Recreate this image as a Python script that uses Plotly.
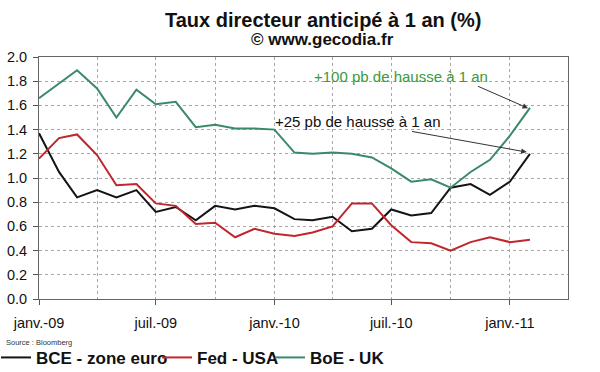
import plotly.graph_objects as go

# ---------------- data ----------------
months = ["2009-01-01", "2009-02-01", "2009-03-01", "2009-04-01", "2009-05-01", "2009-06-01",
          "2009-07-01", "2009-08-01", "2009-09-01", "2009-10-01", "2009-11-01", "2009-12-01",
          "2010-01-01", "2010-02-01", "2010-03-01", "2010-04-01", "2010-05-01", "2010-06-01",
          "2010-07-01", "2010-08-01", "2010-09-01", "2010-10-01", "2010-11-01", "2010-12-01",
          "2011-01-01", "2011-02-01"]

bce = [1.37, 1.05, 0.84, 0.90, 0.84, 0.90, 0.72, 0.76, 0.65, 0.77, 0.74, 0.77,
       0.75, 0.66, 0.65, 0.68, 0.56, 0.58, 0.74, 0.69, 0.71, 0.92, 0.95, 0.86,
       0.97, 1.20]
fed = [1.16, 1.33, 1.36, 1.19, 0.94, 0.95, 0.79, 0.77, 0.62, 0.63, 0.51, 0.58,
       0.54, 0.52, 0.55, 0.60, 0.79, 0.79, 0.61, 0.47, 0.46, 0.40, 0.47, 0.51,
       0.47, 0.49]
boe = [1.66, 1.78, 1.89, 1.74, 1.50, 1.73, 1.61, 1.63, 1.42, 1.44, 1.41, 1.41,
       1.40, 1.21, 1.20, 1.21, 1.20, 1.17, 1.08, 0.97, 0.99, 0.92, 1.05, 1.15,
       1.35, 1.58]

series_names = ["BCE - zone euro", "Fed - USA", "BoE - UK"]
series_colors = ["#141414", "#c0262c", "#3a8a68"]

tick_vals = ["2009-01-01", "2009-07-01", "2010-01-01", "2010-07-01", "2011-01-01"]
tick_text = ["janv.-09", "juil.-09", "janv.-10", "juil.-10", "janv.-11"]

# ---------------- layout geometry ----------------
W, H = 600, 372
L, R, T, B = 39, 32, 56.5, 73
PW, PH = W - L - R, H - T - B
FONT = "Liberation Sans, Arial, sans-serif"


def px(x):
    return (x - L) / PW


def py(y):
    return (H - B - y) / PH


fig = go.Figure()
legends = ["legend", "legend2", "legend3"]
for name, vals, col, lg in zip(series_names, [bce, fed, boe], series_colors, legends):
    fig.add_trace(go.Scatter(x=months, y=vals, mode="lines", name=name,
                             line=dict(color=col, width=2), legend=lg))

grid = dict(showgrid=True, gridcolor="#a8a8a8", gridwidth=1, griddash="dot")

fig.update_xaxes(
    type="date", range=["2009-01-01", "2011-04-01"],
    tickvals=tick_vals, ticktext=tick_text,
    ticks="outside", ticklen=5, tickcolor="#555", tickwidth=1,
    showline=True, linecolor="#666", linewidth=1, mirror=True,
    tickfont=dict(family=FONT, size=14.5, color="#111"),
    ticklabelstandoff=6, automargin=False,
    minor=dict(dtick="M3", tick0="2009-01-01", showgrid=True, gridcolor="#a8a8a8",
               griddash="dot", ticks=""),
    zeroline=False, **grid)

fig.update_yaxes(
    range=[0, 2], dtick=0.2, tick0=0, tickformat=".1f",
    ticks="outside", ticklen=5, tickcolor="#555", tickwidth=1,
    showline=True, linecolor="#666", linewidth=1, mirror=True,
    tickfont=dict(family=FONT, size=14.5, color="#111"),
    ticklabelstandoff=3, automargin=False,
    zeroline=False, **grid)

annotations = [
    dict(text="<b>Taux directeur anticipé à 1 an (%)</b>", x=px(323), y=py(19),
         font=dict(size=20, color="#111")),
    dict(text="<b>© www.gecodia.fr</b>", x=px(322), y=py(39),
         font=dict(size=17, color="#111")),
    dict(text="Source : Bloomberg", x=px(4), y=py(343), xanchor="left",
         font=dict(size=7.5, color="#333")),
    dict(text="+100 pb de hausse à 1 an", x=px(312), y=py(76), xanchor="left",
         font=dict(size=15, color="#3a9a3c")),
    dict(text="+25 pb de hausse à 1 an", x=px(273), y=py(121), xanchor="left",
         font=dict(size=15, color="#111")),
]
for a in annotations:
    a.setdefault("xanchor", "center")
    a.update(xref="paper", yref="paper", yanchor="middle", showarrow=False)
    a["font"]["family"] = FONT
fig.layout.annotations = annotations

# arrows (head on the end of the series, tail near the texts)
arrow_defs = [
    ("2011-01-29", 1.577, "2010-11-10", 1.764),
    ("2011-01-27", 1.214, "2010-07-31", 1.387),
]
for hx, hy, tx, ty in arrow_defs:
    fig.add_annotation(x=hx, y=hy, ax=tx, ay=ty, xref="x", yref="y", axref="x", ayref="y",
                       text=" ", font=dict(size=1), showarrow=True, arrowhead=2,
                       arrowsize=1.1, arrowwidth=1, arrowcolor="#333", standoff=0,
                       startstandoff=0)

leg_common = dict(orientation="h", yanchor="middle", xanchor="left",
                  font=dict(family=FONT, size=17, color="#111", weight="bold"),
                  bgcolor="rgba(0,0,0,0)", itemwidth=30)
fig.update_layout(
    legend=dict(x=px(-4), y=py(358), **leg_common),
    legend2=dict(x=px(157), y=py(358), **leg_common),
    legend3=dict(x=px(270), y=py(358), **leg_common),
)

fig.update_layout(
    width=W, height=H, margin=dict(l=L, r=R, t=T, b=B, pad=0, autoexpand=False),
    paper_bgcolor="white", plot_bgcolor="white",
    font=dict(family=FONT, color="#111"),
    showlegend=True,
)

fig.write_html("out.html", config={"displayModeBar": False},
               post_script="document.body.style.margin='0';document.body.style.overflow='hidden';")
